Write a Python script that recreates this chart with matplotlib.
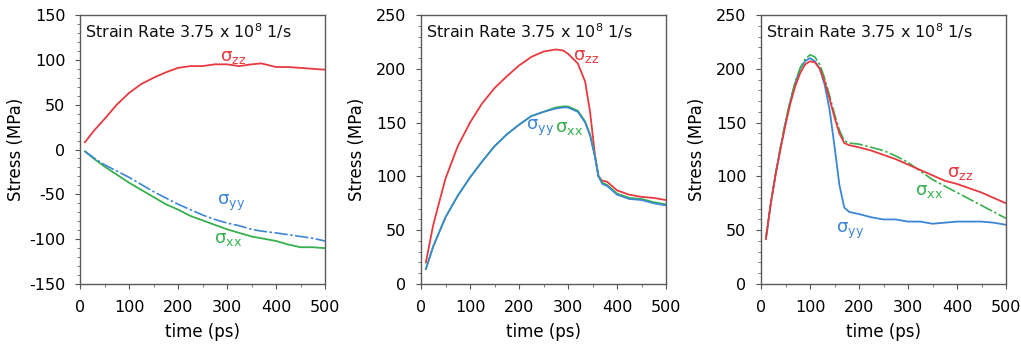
import matplotlib
matplotlib.use("Agg")
import matplotlib.pyplot as plt
import numpy as np
from matplotlib.ticker import MultipleLocator

plt.rcParams['font.family'] = ['DejaVu Sans']
plt.rcParams['mathtext.default'] = 'regular'
plt.rcParams['axes.unicode_minus'] = False

RED = '#e8393f'
BLUE = '#3d86d6'
GREEN = '#35b04c'

# Panel 1
t1 = [10, 30, 50, 75, 100, 125, 150, 175, 200, 225, 250, 275, 300, 325, 350, 370, 400, 425, 450, 475, 500]
zz1 = [8, 22, 34, 50, 63, 73, 80, 86, 91, 93, 93, 95, 95, 93, 95, 96, 92, 92, 91, 90, 89]
yy1 = [-2, -10, -17, -24, -31, -39, -47, -54, -61, -67, -73, -78, -82, -85, -89, -91, -93, -95, -97, -99, -102]
xx1 = [-2, -11, -19, -28, -37, -45, -53, -61, -67, -74, -79, -84, -89, -93, -97, -99, -102, -106, -109, -109, -110]

# Panel 2
t2 = [10, 25, 50, 75, 100, 125, 150, 175, 200, 225, 250, 275, 290, 300, 320, 335, 345, 355, 362, 370, 380, 400, 425, 450, 475, 500]
zz2 = [20, 55, 98, 128, 150, 168, 182, 193, 203, 211, 216, 218, 217, 214, 205, 188, 160, 120, 100, 96, 95, 87, 83, 81, 80, 78]
yy2 = [14, 35, 62, 82, 99, 114, 128, 139, 148, 156, 160, 163, 164, 164, 160, 150, 138, 118, 100, 93, 91, 83, 79, 78, 75, 73]
xx2 = [14, 35, 62, 82, 99, 114, 128, 139, 148, 156, 160, 164, 165, 165, 161, 151, 139, 119, 101, 94, 92, 84, 80, 79, 76, 74]

# Panel 3
t3 = [10, 20, 30, 40, 50, 60, 70, 80, 90, 100, 110, 120, 130, 140, 150, 160, 170, 180, 200, 225, 250, 275, 300, 325, 350, 375, 400, 425, 450, 475, 500]
zz3 = [42, 75, 102, 126, 148, 168, 184, 196, 204, 207, 206, 200, 188, 172, 155, 140, 131, 129, 127, 124, 120, 116, 111, 106, 101, 96, 93, 89, 85, 80, 75]
xx3 = [42, 75, 103, 128, 151, 171, 188, 201, 209, 213, 211, 204, 191, 175, 158, 143, 133, 131, 130, 127, 124, 119, 113, 105, 97, 91, 85, 79, 73, 67, 61]
yy3 = [42, 75, 103, 127, 150, 170, 187, 200, 207, 210, 207, 200, 185, 162, 128, 92, 71, 67, 65, 62, 60, 60, 58, 58, 56, 57, 58, 58, 58, 57, 55]

fig = plt.figure(figsize=(10.21, 3.46), dpi=100)
W, H = 1021, 346
lefts = [80, 421, 761]
axw = 245
top, bottom = 15, 284
axes = []
for l in lefts:
    ax = fig.add_axes([l / W, 1 - bottom / H, axw / W, (bottom - top) / H])
    axes.append(ax)

def style(ax, ylim, ymaj):
    ax.set_xlim(0, 500)
    ax.set_ylim(*ylim)
    ax.xaxis.set_major_locator(MultipleLocator(100))
    ax.xaxis.set_minor_locator(MultipleLocator(50))
    ax.yaxis.set_major_locator(MultipleLocator(ymaj))
    ax.yaxis.set_minor_locator(MultipleLocator(10))
    ax.tick_params(which='major', direction='out', length=3.5, width=0.8, color='#555555', labelsize=11.5)
    ax.tick_params(axis='x', which='major', pad=8)
    ax.tick_params(axis='y', which='major', pad=7)
    ax.tick_params(which='minor', direction='out', length=2.5, width=0.7, color='#777777')
    for s in ax.spines.values():
        s.set_color('#5a5a5a')
        s.set_linewidth(1.0)
    ax.set_ylabel('Stress (MPa)', fontsize=12)
    ax.yaxis.set_label_coords(-0.225, 0.5)
    ax.set_xlabel('time (ps)', fontsize=12, labelpad=6)
    ax.text(0.02, 0.94, 'Strain Rate 3.75 x 10$^{8}$ 1/s', transform=ax.transAxes,
            fontsize=11.5, va='center', ha='left', color='#111111')

LW = 1.3
FS = 13
ax = axes[0]
ax.plot(t1, zz1, color=RED, lw=LW)
ax.plot(t1, xx1, color=GREEN, lw=LW)
ax.plot(t1, yy1, color=BLUE, lw=1.2, ls=(0, (8, 1.5, 1.5, 1.5)))
style(ax, (-150, 150), 50)
ax.text(312, 103, r'σ$_{zz}$', color=RED, fontsize=FS, ha='center', va='center')
ax.text(308, -60, r'σ$_{yy}$', color=BLUE, fontsize=FS, ha='center', va='center')
ax.text(302, -100, r'σ$_{xx}$', color=GREEN, fontsize=FS, ha='center', va='center')

ax = axes[1]
ax.plot(t2, zz2, color=RED, lw=LW)
ax.plot(t2, xx2, color=GREEN, lw=LW)
ax.plot(t2, yy2, color=BLUE, lw=1.2)
style(ax, (0, 250), 50)
ax.text(336, 212, r'σ$_{zz}$', color=RED, fontsize=FS, ha='center', va='center')
ax.text(243, 145, r'σ$_{yy}$', color=BLUE, fontsize=FS, ha='center', va='center')
ax.text(302, 145, r'σ$_{xx}$', color=GREEN, fontsize=FS, ha='center', va='center')

ax = axes[2]
ax.plot(t3, yy3, color=BLUE, lw=LW)
ax.plot(t3, xx3, color=GREEN, lw=1.2, ls=(0, (8, 1.5, 1.5, 1.5)))
ax.plot(t3, zz3, color=RED, lw=LW)
style(ax, (0, 250), 50)
ax.text(407, 103, r'σ$_{zz}$', color=RED, fontsize=FS, ha='center', va='center')
ax.text(342, 86, r'σ$_{xx}$', color=GREEN, fontsize=FS, ha='center', va='center')
ax.text(182, 49, r'σ$_{yy}$', color=BLUE, fontsize=FS, ha='center', va='center')

fig.savefig('out.png', dpi=100)
